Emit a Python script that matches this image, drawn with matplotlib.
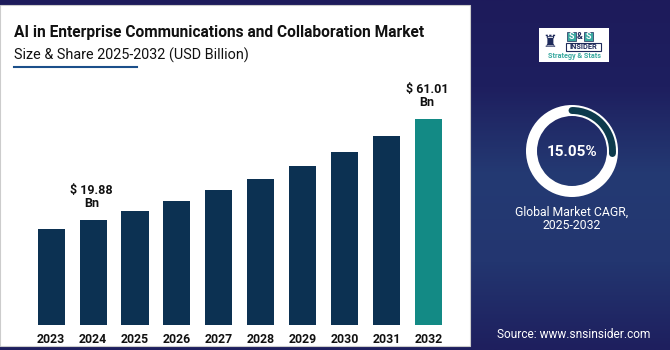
import numpy as np
import matplotlib
matplotlib.use("Agg")
import matplotlib.pyplot as plt
from matplotlib.patches import Rectangle, Wedge, Arc
from matplotlib.colors import LinearSegmentedColormap

plt.rcParams['font.family'] = ['Roboto', 'DejaVu Sans']

years = ['2023', '2024', '2025', '2026', '2027', '2028', '2029', '2030', '2031', '2032']
values = [16.45, 19.88, 23.5, 27.6, 32.1, 36.8, 42.1, 47.8, 54.1, 61.01]
labels = {1: '$ 19.88\nBn', 9: '$ 61.01\nBn'}
cagr = '15.05%'
cagr_share = 0.26

NAVY = '#0c3152'
TEAL = '#138a85'
FLOOR = -22.8

fig = plt.figure(figsize=(6.7, 3.5), dpi=100)

# background in pixel coordinates
bg = fig.add_axes([0, 0, 1, 1])
bg.set_xlim(0, 670)
bg.set_ylim(350, 0)
bg.axis('off')
cmap = LinearSegmentedColormap.from_list('bg', ['#1d1b5b', '#1e1f5f', '#243a73', '#233670', '#1e1f5e'])
grad = np.linspace(0, 1, 200).reshape(-1, 1)
bg.imshow(grad, cmap=cmap, extent=[0, 670, 350, 0], aspect='auto', zorder=0)

# white panel
bg.add_patch(Rectangle((0, 5), 470, 341, facecolor='white', edgecolor='#cccccc', lw=0.8, zorder=1))

# titles
bg.text(14, 33, 'AI in Enterprise Communications and Collaboration Market', fontsize=11.2,
        fontweight='bold', color='#111111', va='center', ha='left', zorder=3)
bg.text(14, 55, 'Size & Share 2025-2032 (USD Billion)', fontsize=10.4,
        color='#111111', va='center', ha='left', zorder=3)
bg.plot([14, 137], [67, 67], color='#1b4f8a', lw=1.5, zorder=3)

# logo
LOGO_TEAL = '#3aa9a0'
LOGO_NAVY = '#1e2a5a'
bg.add_patch(Rectangle((539, 28), 70, 34, facecolor='white', edgecolor='none', zorder=2))
bg.text(550, 42, '♜', fontsize=12, color=LOGO_NAVY, ha='center', va='center', zorder=3,
        family=['DejaVu Sans'])
for sx in (567, 584):
    bg.add_patch(Rectangle((sx, 32), 8.5, 9, facecolor=LOGO_TEAL, edgecolor=LOGO_NAVY, lw=0.5, zorder=3))
    bg.text(sx + 4.25, 36.7, 'S', fontsize=6.5, fontweight='bold', color='white', ha='center',
            va='center', zorder=4)
bg.text(579.7, 36.7, '&', fontsize=6.5, fontweight='bold', color=LOGO_NAVY, ha='center', va='center', zorder=4)
bg.add_patch(Rectangle((566, 43), 35, 7.5, facecolor='white', edgecolor=LOGO_NAVY, lw=0.8, zorder=3))
bg.text(583.5, 46.9, 'INSIDER', fontsize=5.3, fontweight='bold', color=LOGO_NAVY, ha='center',
        va='center', zorder=4)
bg.text(574, 56.5, 'Strategy & Stats', fontsize=5.2, fontweight='bold', color=LOGO_TEAL, ha='center',
        va='center', zorder=3)

# donut
cx, cy, r = 572, 151, 46
bg.add_patch(Wedge((cx, cy), r, 0, 360, width=11, facecolor='white', edgecolor='none', zorder=3))
arc = Arc((cx, cy), 2 * (r - 5.5), 2 * (r - 5.5), theta1=-90, theta2=-90 + 360 * cagr_share,
          color='#0d3a4c', lw=5, zorder=4)
arc.set_capstyle('round')
bg.add_patch(arc)
bg.text(cx, cy + 1, cagr, fontsize=11, fontweight='bold', color='white', ha='center', va='center', zorder=4)
bg.text(cx, 219, 'Global Market CAGR,\n2025-2032', fontsize=8.8, color='white', ha='center',
        va='center', linespacing=1.05, zorder=4)
bg.text(574, 334, 'Source: www.snsinsider.com', fontsize=8.6, color='white', ha='center', va='center', zorder=4)

# bar chart
ax = fig.add_axes([30.25 / 670, 25 / 350, 419 / 670, 245 / 350])
ax.set_facecolor('none')
x = np.arange(len(years))
colors = [NAVY] * (len(years) - 1) + [TEAL]
ax.bar(x, np.array(values) - FLOOR, bottom=FLOOR, width=0.645, color=colors)
ax.set_xlim(-0.5, len(years) - 0.5)
ax.set_ylim(FLOOR, FLOOR + 245 * 0.4072)
ax.set_xticks(x)
ax.set_xticklabels(years, fontsize=8.8, fontweight='bold', color='#111111')
ax.tick_params(axis='x', length=0, pad=6)
ax.set_yticks([])
for s in ax.spines.values():
    s.set_visible(False)
for i, t in labels.items():
    ax.annotate(t, (x[i], values[i]), xytext=(-1, 7), textcoords='offset points', ha='center',
                va='bottom', fontsize=9, fontweight='bold', color='#111111', linespacing=1.05)

fig.savefig('out.png', dpi=100)
